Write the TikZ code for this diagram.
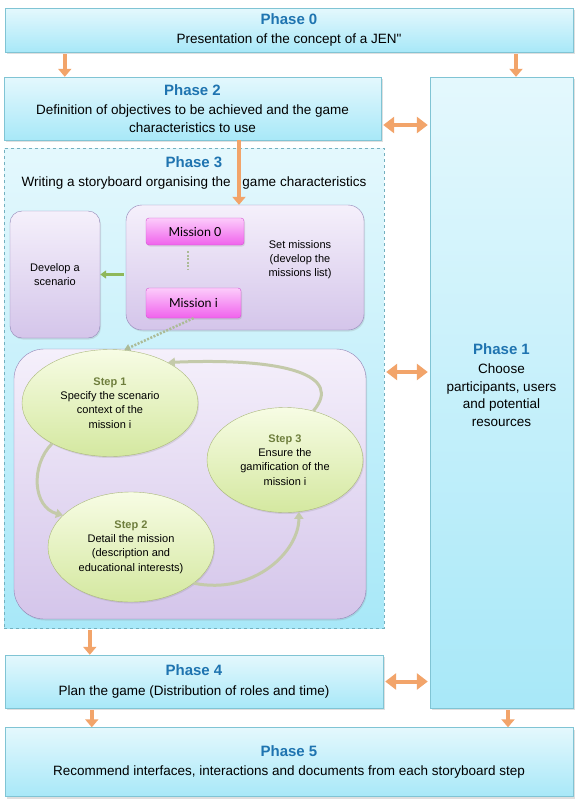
\documentclass[tikz,border=0pt]{standalone}
\usepackage{fontspec}
\setmainfont{Liberation Sans}[Ligatures=TeXOff]
\newfontfamily\missionfont{Lato}
\usetikzlibrary{arrows.meta, positioning, shapes.geometric, shadows, calc}

\definecolor{phaseblue}{RGB}{31,116,176}
\definecolor{boxtop}{RGB}{228,248,253}
\definecolor{boxbottom}{RGB}{168,232,248}
\definecolor{boxline}{RGB}{128,196,212}
\definecolor{arroworange}{RGB}{242,164,106}
\definecolor{lilactop}{RGB}{245,240,251}
\definecolor{lilacbottom}{RGB}{212,197,234}
\definecolor{lilacline}{RGB}{146,132,182}
\definecolor{pinktop}{RGB}{252,204,251}
\definecolor{pinkbottom}{RGB}{240,98,236}
\definecolor{pinkline}{RGB}{210,84,208}
\definecolor{steptop}{RGB}{247,252,228}
\definecolor{stepbottom}{RGB}{212,232,160}
\definecolor{stepline}{RGB}{170,184,122}
\definecolor{stepolive}{RGB}{110,126,60}
\definecolor{loopgray}{RGB}{196,202,170}
\definecolor{linkgreen}{RGB}{143,184,90}

\newcommand{\phasetitle}[1]{{\fontsize{15}{17}\selectfont\bfseries\color{phaseblue}#1}}
\newcommand{\steptitle}[1]{{\bfseries\color{stepolive}#1}}
\newcommand{\inboxfont}{\fontsize{11}{14.2}\selectfont}

\begin{document}
\begin{tikzpicture}[
    x=1pt, y=-1pt,
    every node/.style={font=\fontsize{13.5}{17.5}\selectfont},
    phase/.style={rectangle, draw=boxline, top color=boxtop, bottom color=boxbottom, align=center, inner sep=0pt,
        drop shadow={shadow xshift=1.5pt, shadow yshift=-2pt, opacity=0.25}},
    phasedash/.style={rectangle, draw=boxline!90!black, dashed, top color=boxtop, bottom color=boxbottom, inner sep=0pt},
    lilac/.style={rectangle, draw=lilacline, top color=lilactop, bottom color=lilacbottom, align=center, inner sep=0pt,
        drop shadow={shadow xshift=1pt, shadow yshift=-1.5pt, opacity=0.2}},
    mission/.style={rectangle, rounded corners=3pt, draw=pinkline, top color=pinktop, bottom color=pinkbottom, inner sep=0pt,
        font=\missionfont\fontsize{12.5}{14}\selectfont, drop shadow={shadow xshift=1pt, shadow yshift=-1.5pt, opacity=0.2}},
    stepnode/.style={ellipse, draw=stepline, top color=steptop, bottom color=stepbottom, align=center, inner sep=0pt,
        font=\inboxfont, drop shadow={shadow xshift=1pt, shadow yshift=-1.5pt, opacity=0.2}},
    oarrow/.style={draw=arroworange, line width=3.5pt, -{Triangle[length=8pt, width=13pt]}},
    odouble/.style={draw=arroworange, line width=4pt, {Triangle[length=11pt, width=16pt]}-{Triangle[length=11pt, width=16pt]}},
    greenarrow/.style={draw=linkgreen, line width=2.5pt, -{Triangle[length=6pt, width=8pt]}},
    missionlink/.style={draw=linkgreen!55!gray!70, line width=2.5pt, dash pattern=on 2pt off 1.5pt},
    loop/.style={draw=loopgray, line width=3pt, -{Triangle[length=7pt, width=9pt]}}
]
    \path[fill=white] (0,0) rectangle (578,806);
    \useasboundingbox (0,0) rectangle (578,806);

    \node[phase, minimum width=568pt, minimum height=44pt] (p0) at (289,30)
        {\phasetitle{Phase 0}\\[2pt] Presentation of the concept of a JEN"};
    \node[phase, minimum width=377pt, minimum height=63pt] (p2) at (192.5,108.5)
        {\phasetitle{Phase 2}\\[2pt] Definition of objectives to be achieved and the game\\ characteristics to use};
    \node[phase, minimum width=143pt, minimum height=631pt] (p1) at (501.5,392.5) {};
    \node[align=center] (p1text) at (501.5,385)
        {\phasetitle{Phase 1}\\[2pt] Choose\\ participants, users\\ and potential\\ resources};
    \node[phasedash, minimum width=380pt, minimum height=480pt] (p3) at (194,388) {};
    \node[align=center] (p3text) at (194,173)
        {\phasetitle{Phase 3}\\[2pt] Writing a storyboard organising the\hspace{8pt} game characteristics};
    \node[phase, minimum width=378pt, minimum height=53pt] (p4) at (194,681.5)
        {\phasetitle{Phase 4}\\[2pt] Plan the game (Distribution of roles and time)};
    \node[phase, minimum width=568pt, minimum height=69pt] (p5) at (289,762)
        {\phasetitle{Phase 5}\\[2pt] Recommend interfaces, interactions and documents from each storyboard step};

    \node[lilac, rounded corners=12pt, minimum width=90pt, minimum height=127pt, font=\inboxfont] (scenario) at (55,274.5)
        {Develop a\\ scenario};
    \node[lilac, rounded corners=16pt, minimum width=238pt, minimum height=125pt] (missions) at (245,267.5) {};
    \node[mission, minimum width=98pt, minimum height=27pt] (mission0) at (195,231.5) {Mission 0};
    \node[mission, minimum width=95pt, minimum height=30pt] (missioni) at (193.5,303) {Mission i};
    \node[align=center, font=\inboxfont] (settext) at (300,259.5) {Set missions\\ (develop the\\ missions list)};

    \node[lilac, rounded corners=30pt, minimum width=352pt, minimum height=270pt] (stepsbox) at (190,484) {};
    \node[stepnode, minimum width=176pt, minimum height=107pt] (step1) at (110,403)
        {\steptitle{Step 1}\\ Specify the scenario\\ context of the\\ mission i};
    \node[stepnode, minimum width=156pt, minimum height=105pt] (step3) at (285,460)
        {\steptitle{Step 3}\\ Ensure the\\ gamification of the\\ mission i};
    \node[stepnode, minimum width=166pt, minimum height=110pt] (step2) at (131,547)
        {\steptitle{Step 2}\\ Detail the mission\\ (description and\\ educational interests)};

    \draw[oarrow, shorten <=2pt] ([xshift=61pt]p2.north west |- p0.south) -- ([xshift=61pt]p2.north west);
    \draw[oarrow, shorten <=2pt] ([xshift=14.5pt]p1.north |- p0.south) -- ([xshift=14.5pt]p1.north);
    \draw[oarrow] ([xshift=-6pt]missions.north |- p2.south) -- ([xshift=-6pt]missions.north);
    \draw[odouble, shorten <=2pt, shorten >=2pt] ([yshift=-16.5pt]p2.east) -- ([yshift=-16.5pt]p2.east -| p1.west);
    \draw[odouble, shorten <=2pt, shorten >=2pt] ([yshift=16pt]p3.east) -- ([yshift=16pt]p3.east -| p1.west);
    \draw[odouble, shorten <=2pt, shorten >=2pt] (p4.east) -- (p4.east -| p1.west);
    \draw[oarrow, shorten <=2pt] ([xshift=85pt]p4.north west |- p3.south) -- ([xshift=85pt]p4.north west);
    \draw[oarrow, shorten <=2pt] ([xshift=87pt]p5.north west |- p4.south) -- ([xshift=87pt]p5.north west);
    \draw[oarrow, shorten <=2pt] ([xshift=6.5pt]p1.south) -- ([xshift=6.5pt]p1.south |- p5.north);

    \draw[greenarrow, shorten <=2pt] (missions.west |- scenario.east) -- (scenario.east);
    \draw[missionlink, shorten <=6pt, shorten >=18pt] ([xshift=-7pt]mission0.south) -- ([xshift=-7pt]mission0.south |- missioni.north);
    \draw[missionlink, -{Triangle[length=6pt, width=7pt]}] (missioni.south) -- (step1.75);

    \draw[loop] (step1.215) .. controls +(-22,22) and +(-30,-8) .. (step2.155);
    \draw[loop] (step2.-30) .. controls +(60,12) and +(0,40) .. (step3.-75);
    \draw[loop] (step3.60) .. controls +(30,-35) and +(120,-5) .. (step1.35);
\end{tikzpicture}
\end{document}
